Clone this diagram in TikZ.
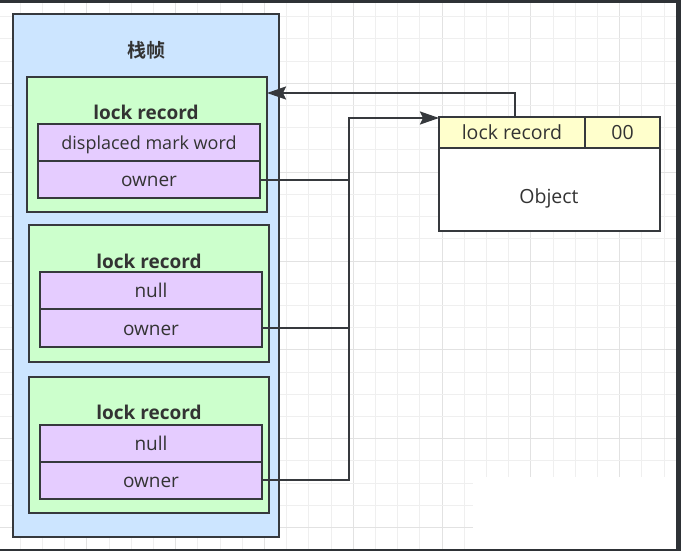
\documentclass[tikz,border=0pt]{standalone}
\usepackage{fontspec}
\setmainfont{Open Sans}
\newfontfamily\cjk{Noto Sans CJK SC}[BoldFont={Noto Sans CJK SC Bold}]
\usetikzlibrary{arrows.meta}
\definecolor{strokec}{HTML}{36393D}
\definecolor{txt}{HTML}{333333}
\definecolor{stackblue}{HTML}{CCE5FF}
\definecolor{lrgreen}{HTML}{CCFFCC}
\definecolor{rowpurple}{HTML}{E5CCFF}
\definecolor{hdryellow}{HTML}{FFFFCC}
\definecolor{gridminor}{HTML}{EFEFEF}
\definecolor{gridmajor}{HTML}{E2E2E2}
\definecolor{framec}{HTML}{2E3236}
\tikzset{
  box/.style={draw=strokec, line width=2pt, inner sep=0pt, outer sep=0pt, text=txt,
    text height=16pt, text depth=2pt, font=\fontsize{19}{22}\selectfont},
  title/.style={text=txt, inner sep=0pt, font=\fontsize{19}{22}\selectfont\bfseries},
  conn/.style={draw=strokec, line width=2pt},
  arr/.style={-{Stealth[length=19pt,width=13pt,inset=3pt]}},
}
\begin{document}
\begin{tikzpicture}[x=1pt,y=-1pt]
\useasboundingbox (0,0) rectangle (681,551);
\fill[white] (0,0) rectangle (681,551);
% grid
\foreach \i in {0,...,30}{
  \pgfmathsetmacro{\gx}{20.2+22.2*\i}
  \pgfmathparse{mod(\i,4)==3 ? 1 : 0}
  \ifnum\pgfmathresult=1
    \draw[gridmajor, line width=1pt] (\gx,0) -- (\gx,551);
  \else
    \draw[gridminor, line width=1pt] (\gx,0) -- (\gx,551);
  \fi
}
\foreach \i in {0,...,24}{
  \pgfmathsetmacro{\gy}{16.8+22.2*\i}
  \pgfmathparse{mod(\i,4)==3 ? 1 : 0}
  \ifnum\pgfmathresult=1
    \draw[gridmajor, line width=1pt] (0,\gy) -- (681,\gy);
  \else
    \draw[gridminor, line width=1pt] (0,\gy) -- (681,\gy);
  \fi
}
\fill[white] (473,477) rectangle (676,549);
% frame
\fill[framec] (0,0) rectangle (681,3);
\fill[framec] (676,0) rectangle (681,551);
\fill[framec] (0,549) rectangle (681,551);

% stack frame
\node[box, fill=stackblue, minimum width=266pt, minimum height=523pt] (stack) at (146,275.5) {};
\node[inner sep=0pt, text=txt, font=\cjk\bfseries\fontsize{19}{22}\selectfont] (stacktitle) at (146,50) {栈帧};

% lock record 1
\node[box, fill=lrgreen, minimum width=240pt, minimum height=135pt] (lr1) at (147,144.5) {};
\node[title] (lr1t) at (146,112.5) {lock record};
\node[box, fill=rowpurple, minimum width=222pt, minimum height=37pt, font=\fontsize{18}{22}\selectfont] (dmw1) at (149,142.5) {displaced mark word};
\node[box, fill=rowpurple, minimum width=222pt, minimum height=37pt] (own1) at (149,179.5) {owner};

% lock record 2
\node[box, fill=lrgreen, minimum width=240pt, minimum height=137pt] (lr2) at (149,293.5) {};
\node[title] (lr2t) at (149,261.5) {lock record};
\node[box, fill=rowpurple, minimum width=222pt, minimum height=37pt] (null2) at (151,290.5) {null};
\node[box, fill=rowpurple, minimum width=222pt, minimum height=38pt] (own2) at (151,328) {owner};

% lock record 3
\node[box, fill=lrgreen, minimum width=240pt, minimum height=136pt] (lr3) at (149,445) {};
\node[title] (lr3t) at (149,412.5) {lock record};
\node[box, fill=rowpurple, minimum width=222pt, minimum height=37pt] (null3) at (151,443) {null};
\node[box, fill=rowpurple, minimum width=222pt, minimum height=37pt] (own3) at (151,480) {owner};

% object
\node[box, fill=white, minimum width=221pt, minimum height=83pt] (objbody) at (549.5,189.5) {};
\node[inner sep=0pt, text=txt, text height=16pt, text depth=2pt, font=\fontsize{19.5}{22}\selectfont] (objtext) at (549,197) {Object};
\node[box, fill=hdryellow, minimum width=146pt, minimum height=31pt, font=\fontsize{19.5}{22}\selectfont] (hdr) at (512,132.5) {lock record};
\node[box, fill=hdryellow, minimum width=75pt, minimum height=31pt, font=\fontsize{19.5}{22}\selectfont] (bits) at (622.5,132.5) {00};

% connectors
\coordinate (bus) at (349,118);
\coordinate (up) at (515,93);
\draw[conn] (own1.east) -- (own1.east -| bus);
\draw[conn] (own2.east) -- (own2.east -| bus);
\draw[conn, arr] (own3.east) -| (bus) -- (bus -| hdr.west);
\draw[conn, arr] (hdr.north -| up) -- (up) -- (up -| lr1.east);
\end{tikzpicture}
\end{document}
